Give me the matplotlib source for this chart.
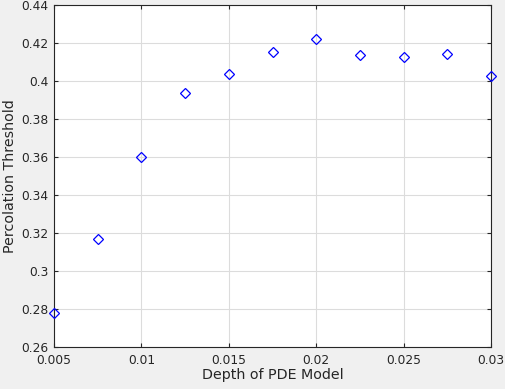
import matplotlib
matplotlib.use("Agg")
import matplotlib.pyplot as plt

# data
depth = [0.005, 0.0075, 0.01, 0.0125, 0.015, 0.0175, 0.02, 0.0225, 0.025, 0.0275, 0.03]
threshold = [0.2777, 0.3168, 0.3600, 0.3937, 0.4037, 0.4155, 0.4220, 0.4137, 0.4128, 0.4140, 0.4026]

xticks = [0.005, 0.01, 0.015, 0.02, 0.025, 0.03]
xticklabels = ["0.005", "0.01", "0.015", "0.02", "0.025", "0.03"]
yticks = [0.26, 0.28, 0.3, 0.32, 0.34, 0.36, 0.38, 0.4, 0.42, 0.44]
yticklabels = ["0.26", "0.28", "0.3", "0.32", "0.34", "0.36", "0.38", "0.4", "0.42", "0.44"]

fig = plt.figure(figsize=(5.05, 3.89), dpi=100, facecolor="#f0f0f0")
ax = fig.add_axes([54/505, 1 - 347/389, (491-54)/505, (347-5)/389])
ax.set_facecolor("white")

ax.plot(depth, threshold, linestyle="none", marker="D", markersize=4.8,
        markerfacecolor="none", markeredgecolor="blue", markeredgewidth=0.9, clip_on=False, zorder=3)

ax.set_xlim(0.005, 0.03)
ax.set_ylim(0.26, 0.44)
ax.set_xticks(xticks)
ax.set_xticklabels(xticklabels)
ax.set_yticks(yticks)
ax.set_yticklabels(yticklabels)

ax.grid(True, color="#dcdcdc", linewidth=0.8)
ax.set_axisbelow(True)
for s in ax.spines.values():
    s.set_color("#262626")
    s.set_linewidth(0.8)
ax.tick_params(direction="in", top=True, right=True, length=3, width=0.8,
               color="#262626", labelcolor="#262626", labelsize=8.8)
ax.tick_params(axis="x", pad=5)
ax.tick_params(axis="y", pad=4)

ax.set_xlabel("Depth of PDE Model", fontsize=10.3, color="#262626", labelpad=1)
ax.set_ylabel("Percolation Threshold", fontsize=10.3, color="#262626", labelpad=3)

fig.savefig("out.png", dpi=100, facecolor=fig.get_facecolor())
